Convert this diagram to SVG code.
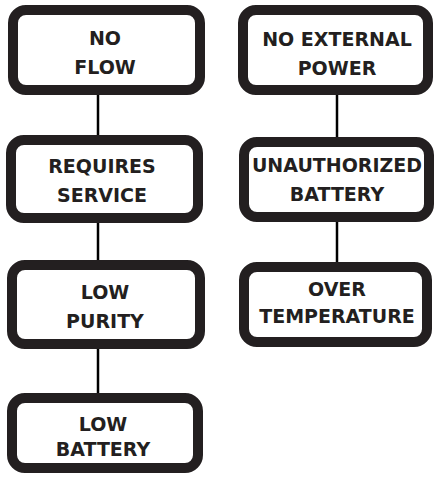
<svg xmlns="http://www.w3.org/2000/svg" width="436" height="480" viewBox="0 0 436 480">
<style>
.box{fill:#fff;stroke:#231f20;stroke-width:10}
.lbl{font-family:"DejaVu Sans",sans-serif;font-weight:bold;font-size:19px;fill:#231f20;text-anchor:middle}
.con{stroke:#000;stroke-width:2.5;fill:none}
</style>
<rect width="436" height="480" fill="#fff"/>
<g id="connectors">
<line class="con" x1="98" y1="95" x2="98" y2="135"/>
<line class="con" x1="98" y1="223" x2="98" y2="260"/>
<line class="con" x1="98" y1="349" x2="98" y2="393"/>
<line class="con" x1="337" y1="95" x2="337" y2="137"/>
<line class="con" x1="337" y1="222" x2="337" y2="262"/>
</g>
<g id="no-flow">
<rect class="box" x="13" y="10" width="187" height="80" rx="13"/>
<text class="lbl" x="105" y="45">NO</text>
<text class="lbl" x="105" y="74">FLOW</text>
</g>
<g id="requires-service">
<rect class="box" x="11" y="140" width="187" height="78" rx="13"/>
<text class="lbl" x="102" y="173">REQUIRES</text>
<text class="lbl" x="102" y="202">SERVICE</text>
</g>
<g id="low-purity">
<rect class="box" x="12" y="265" width="188" height="79" rx="13"/>
<text class="lbl" x="105" y="299">LOW</text>
<text class="lbl" x="105" y="328">PURITY</text>
</g>
<g id="low-battery">
<rect class="box" x="12" y="398" width="186" height="70" rx="13"/>
<text class="lbl" x="103" y="431">LOW</text>
<text class="lbl" x="103" y="456">BATTERY</text>
</g>
<g id="no-external-power">
<rect class="box" x="243" y="10" width="185" height="80" rx="13"/>
<text class="lbl" x="337" y="46">NO EXTERNAL</text>
<text class="lbl" x="337" y="75">POWER</text>
</g>
<g id="unauthorized-battery">
<rect class="box" x="244" y="142" width="185" height="75" rx="13"/>
<text class="lbl" x="337" y="172">UNAUTHORIZED</text>
<text class="lbl" x="337" y="201">BATTERY</text>
</g>
<g id="over-temperature">
<rect class="box" x="244" y="267" width="183" height="75" rx="13"/>
<text class="lbl" x="337" y="296">OVER</text>
<text class="lbl" x="337" y="323">TEMPERATURE</text>
</g>
</svg>
